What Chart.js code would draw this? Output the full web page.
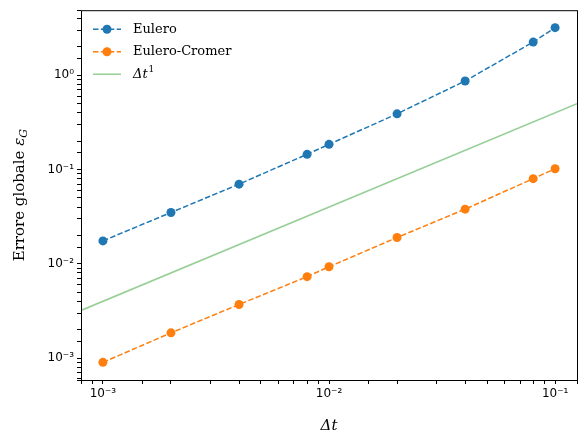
<!DOCTYPE html>
<html><head><meta charset="utf-8">
<script src="https://cdn.jsdelivr.net/npm/chart.js@4.4.0/dist/chart.umd.min.js"></script>
<style>html,body{margin:0;padding:0;background:#fff}#w{width:585px;height:439px}</style>
</head><body><div id="w"><canvas id="c" width="585" height="439"></canvas></div>
<script>
const dt = [0.001, 0.002, 0.004, 0.008, 0.01, 0.02, 0.04, 0.08, 0.1];
const eulero = [0.0175, 0.035, 0.07, 0.145, 0.185, 0.39, 0.87, 2.25, 3.2];
const cromer = [0.0009, 0.00185, 0.0037, 0.0073, 0.0093, 0.019, 0.038, 0.08, 0.102];
const refX = [0.0008, 0.125];
const refY = [0.0032, 0.5];
const labels = ['Eulero', 'Eulero-Cromer', 'Δt¹'];
const sup = {'-':'⁻','0':'⁰','1':'¹','2':'²','3':'³','4':'⁴'};
function fmt(v){const e=Math.log10(v);const r=Math.round(e);if(Math.abs(e-r)>1e-6)return '';return '10'+String(r).split('').map(c=>sup[c]).join('');}
const blue='#1f77b4', orange='#ff7f0e', green='rgba(44,160,44,0.5)';
const frame={id:'frame',afterDraw(ch){const a=ch.chartArea,c=ch.ctx;c.save();c.strokeStyle='#000';c.lineWidth=1;c.strokeRect(a.left+0.5,a.top+0.5,a.right-a.left,a.bottom-a.top);
// y title
c.fillStyle='#000';c.translate(20,(a.top+a.bottom)/2);c.rotate(-Math.PI/2);c.font='15px "DejaVu Serif"';c.textAlign='left';c.textBaseline='middle';
const t='Errore globale ';const tw=c.measureText(t).width;c.font='italic 15px "DejaVu Serif"';const ew=c.measureText('ε').width;c.font='11px "DejaVu Serif"';const gw=c.measureText('G').width;
const tot=tw+ew+gw;c.font='15px "DejaVu Serif"';c.fillText(t,-tot/2,0);c.font='italic 15px "DejaVu Serif"';c.fillText('ε',-tot/2+tw,0);c.font='italic 11px "DejaVu Serif"';c.fillText('G',-tot/2+tw+ew,4);
c.restore();
// legend
c.save();const items=[[blue,true,true],[orange,true,true],[green,false,false]];c.font='13px "DejaVu Serif"';c.textBaseline='middle';
items.forEach((it,i)=>{const y=a.top+19+i*22.5,x0=a.left+12;c.strokeStyle=it[0];c.lineWidth=1.5;c.setLineDash(it[1]?[5.5,2.4]:[]);c.beginPath();c.moveTo(x0,y);c.lineTo(x0+28,y);c.stroke();c.setLineDash([]);
if(it[2]){c.fillStyle=it[0];c.beginPath();c.arc(x0+14,y,4.5,0,2*Math.PI);c.fill();}
c.fillStyle='#000';if(i<2)c.fillText(labels[i],x0+40,y);else{c.font='italic 13px "DejaVu Serif"';c.fillText('Δt',x0+40,y);const w=c.measureText('Δt').width;c.font='9px "DejaVu Serif"';c.fillText('1',x0+40+w+1,y-5);}});
c.restore();}};
new Chart(document.getElementById('c'),{type:'line',data:{datasets:[
{data:dt.map((x,i)=>({x,y:eulero[i]})),borderColor:blue,backgroundColor:blue,borderDash:[5.5,2.4],borderWidth:1.5,pointRadius:4.5,pointHoverRadius:4.5,pointBorderWidth:0},
{data:dt.map((x,i)=>({x,y:cromer[i]})),borderColor:orange,backgroundColor:orange,borderDash:[5.5,2.4],borderWidth:1.5,pointRadius:4.5,pointHoverRadius:4.5,pointBorderWidth:0},
{data:refX.map((x,i)=>({x,y:refY[i]})),borderColor:green,borderWidth:1.5,pointRadius:0}
]},options:{responsive:false,animation:false,devicePixelRatio:1,layout:{padding:{top:10,right:8,left:0,bottom:0}},
plugins:{legend:{display:false},tooltip:{enabled:false}},
scales:{x:{type:'logarithmic',min:0.0008,max:0.125,afterFit(s){s.height=59;},
 grid:{drawOnChartArea:false,color:'#000',tickLength:4,drawTicks:true},border:{display:false},
 ticks:{color:'#000',font:{family:'DejaVu Sans',size:12},maxRotation:0,autoSkip:false,callback:(v)=>fmt(v)},
 title:{display:true,text:'Δt',color:'#000',font:{family:'DejaVu Serif',size:15,style:'italic'},padding:{top:2}}},
y:{type:'logarithmic',min:0.000585,max:4.9,afterFit(s){s.width=81;},
 grid:{drawOnChartArea:false,color:'#000',tickLength:4},border:{display:false},
 ticks:{color:'#000',font:{family:'DejaVu Sans',size:12},autoSkip:false,callback:(v)=>fmt(v)}}}},plugins:[frame]});
</script></body></html>
